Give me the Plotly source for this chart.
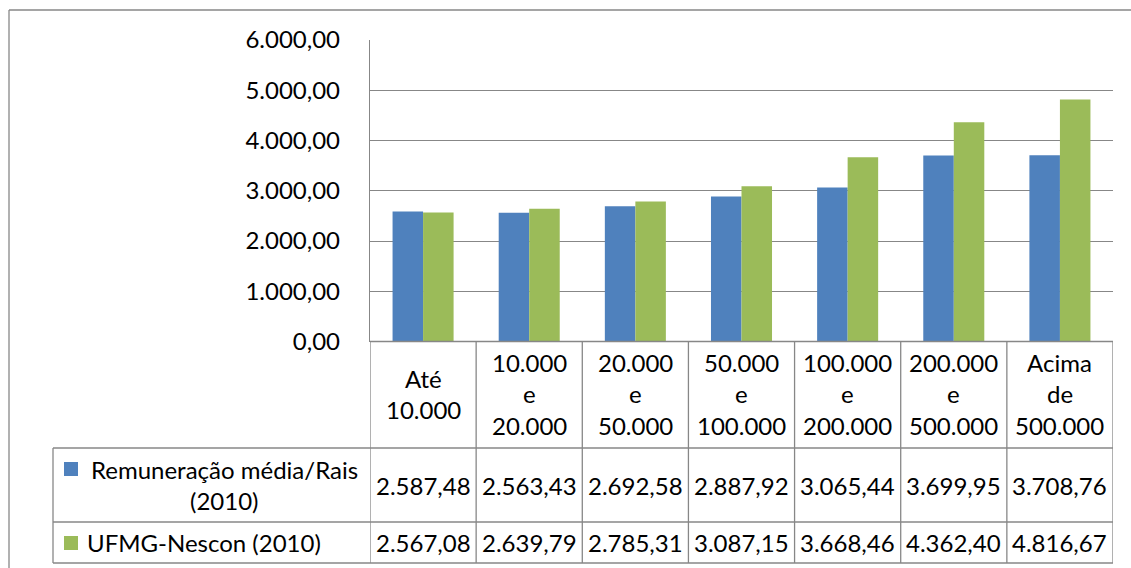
import textwrap
import plotly.graph_objects as go

# Population size classes (header row of the data table)
categories = [
    "Até\n10.000",
    "10.000\ne\n20.000",
    "20.000\ne\n50.000",
    "50.000\ne\n100.000",
    "100.000\ne\n200.000",
    "200.000\ne\n500.000",
    "Acima\nde\n500.000",
]
series_names = ["Remuneração média/Rais (2010)", "UFMG-Nescon (2010)"]
rais_2010 = [2587.48, 2563.43, 2692.58, 2887.92, 3065.44, 3699.95, 3708.76]
nescon_2010 = [2567.08, 2639.79, 2785.31, 3087.15, 3668.46, 4362.40, 4816.67]
y_ticks = [0, 1000, 2000, 3000, 4000, 5000, 6000]

W, H = 1131, 568
FONT = "Lato"
FS = 24
GRID = "#878787"
COLORS = ["#4F81BD", "#9BBB59"]


def px(x):
    return x / W


def py(y):
    return 1 - y / H


def fmt(v):
    s = f"{v:,.2f}"
    return s.replace(",", "#").replace(".", ",").replace("#", ".")


# Plot-area and table geometry (pixels)
X0, X1 = 370, 1113
Y_TOP, Y_ZERO = 40, 341.5
ROW_HDR_BOT, ROW1_BOT, ROW2_BOT = 448, 522, 563
LEG_X = 53

fig = go.Figure()
for name, vals, col in zip(series_names, [rais_2010, nescon_2010], COLORS):
    fig.add_trace(go.Bar(
        x=list(range(len(categories))), y=vals, name=name,
        marker=dict(color=col, line=dict(width=0)),
    ))

shapes = []
line = dict(color=GRID, width=1.3)
# outer chart border (left and top)
shapes.append(dict(type="line", xref="paper", yref="paper",
                   x0=px(9), x1=px(9), y0=py(10), y1=0, line=line))
shapes.append(dict(type="line", xref="paper", yref="paper",
                   x0=px(9), x1=1, y0=py(10), y1=py(10), line=line))
# table horizontal rules
for yy, xa in [(Y_ZERO, X0), (ROW_HDR_BOT, LEG_X), (ROW1_BOT, LEG_X), (ROW2_BOT, LEG_X)]:
    shapes.append(dict(type="line", xref="paper", yref="paper",
                       x0=px(xa), x1=px(X1), y0=py(yy), y1=py(yy), line=line))
# table vertical rules at category boundaries
n = len(categories)
for i in range(n + 1):
    shapes.append(dict(type="line", xref="x", yref="paper",
                       x0=i - 0.5, x1=i - 0.5, y0=py(Y_ZERO), y1=py(ROW2_BOT), line=line))
shapes.append(dict(type="line", xref="paper", yref="paper",
                   x0=px(LEG_X), x1=px(LEG_X), y0=py(ROW_HDR_BOT), y1=py(ROW2_BOT), line=line))
# legend keys
for (yk0, yk1), col in zip([(462, 476), (536, 550)], COLORS):
    shapes.append(dict(type="rect", xref="paper", yref="paper",
                       x0=px(64), x1=px(78), y0=py(yk1), y1=py(yk0),
                       fillcolor=col, line=dict(width=0)))

annotations = []
txt = dict(family=FONT, size=FS, color="black")
LINE_H = 31.5
# header cells
for i, cat in enumerate(categories):
    lines = cat.split("\n")
    yc = (Y_ZERO + ROW_HDR_BOT) / 2 - 1
    start = yc - (len(lines) - 1) * LINE_H / 2
    for k, t in enumerate(lines):
        annotations.append(dict(x=i, xref="x", y=py(start + k * LINE_H), yref="paper",
                                text=t, showarrow=False, font=txt,
                                xanchor="center", yanchor="middle"))
# value cells
for vals, yc in [(rais_2010, (ROW_HDR_BOT + ROW1_BOT) / 2), (nescon_2010, (ROW1_BOT + ROW2_BOT) / 2)]:
    for i, v in enumerate(vals):
        annotations.append(dict(x=i, xref="x", y=py(yc), yref="paper",
                                text=fmt(v), showarrow=False, font=txt,
                                xanchor="center", yanchor="middle"))
# series names in the legend column
name_lines = [textwrap.wrap(nm, 22) for nm in series_names]
r1 = name_lines[0]
yc1 = (ROW_HDR_BOT + ROW1_BOT) / 2
for k, t in enumerate(r1):
    annotations.append(dict(x=px(224), xref="paper",
                            y=py(yc1 - (len(r1) - 1) * LINE_H / 2 + k * LINE_H), yref="paper",
                            text=t, showarrow=False, font=txt,
                            xanchor="center", yanchor="middle"))
annotations.append(dict(x=px(85), xref="paper", y=py((ROW1_BOT + ROW2_BOT) / 2), yref="paper",
                        text=" ".join(name_lines[1]), showarrow=False, font=txt,
                        xanchor="left", yanchor="middle"))

fig.update_layout(
    template="none",
    width=W, height=H,
    margin=dict(l=0, r=0, t=0, b=0, pad=0, autoexpand=False),
    paper_bgcolor="white", plot_bgcolor="white",
    separators=",.",
    showlegend=False,
    barmode="group", bargap=0.425, bargroupgap=0,
    font=dict(family=FONT, size=FS, color="black"),
    xaxis=dict(domain=[px(X0), px(X1)], range=[-0.5, n - 0.5], automargin=False,
               showticklabels=False, showgrid=False, zeroline=False, showline=False,
               ticks=""),
    yaxis=dict(domain=[py(Y_ZERO), py(Y_TOP)], range=[0, 6000], automargin=False,
               tickvals=y_ticks, tickformat=",.2f",
               showgrid=True, gridcolor=GRID, gridwidth=1.3,
               zeroline=False, showline=True, linecolor=GRID, linewidth=1.3,
               ticks="", ticklabelstandoff=24,
               tickfont=dict(family=FONT, size=FS, color="black")),
    shapes=shapes, annotations=annotations,
)

fig.write_html("out.html")
